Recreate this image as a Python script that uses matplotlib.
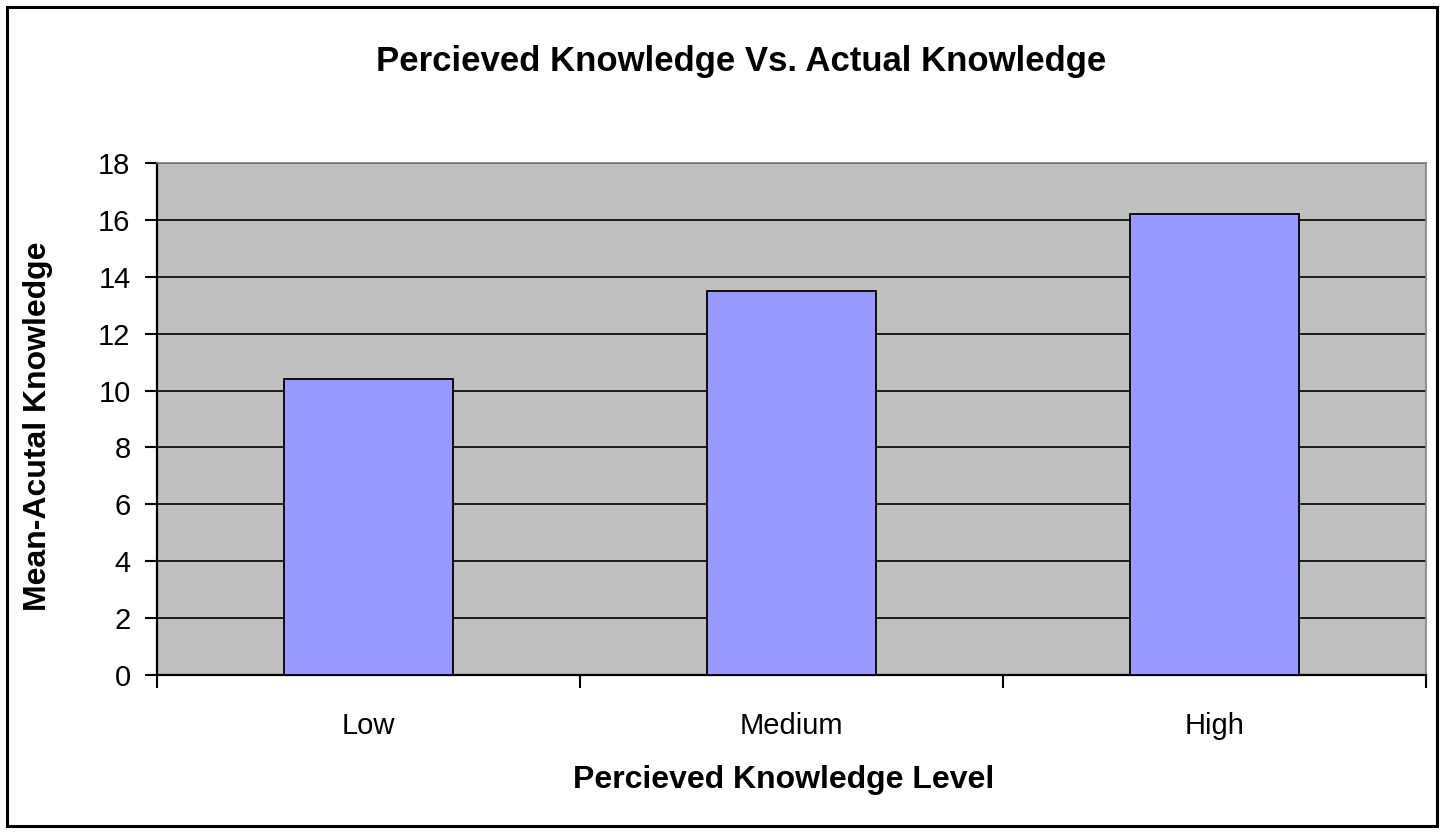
import matplotlib.pyplot as plt
from matplotlib.patches import Rectangle
import numpy as np

#%% Data

categories = ['Low', 'Medium', 'High']
mean_actual = [10.4, 13.5, 16.2]
y_ticks = list(range(0, 19, 2))

plt.rcParams['font.family'] = ['Liberation Sans', 'DejaVu Sans']

#%% Figure

fig = plt.figure(figsize=(14.41, 8.32), dpi=100)
ax = fig.add_axes([157 / 1441, 1 - 675 / 832, (1426 - 157) / 1441, (675 - 163) / 832])
ax.set_facecolor('#C0C0C0')

x = np.arange(len(categories))
ax.bar(x, mean_actual, width=0.4, color='#9999FF', edgecolor='black', linewidth=1.3, zorder=3)

### Axes
ax.set_xlim(-0.5, len(categories) - 0.5)
ax.set_ylim(0, 18)
ax.set_yticks(y_ticks)
ax.set_xticks(x)
ax.set_xticklabels(categories)
ax.set_xticks(np.arange(len(categories) + 1) - 0.5, minor=True)

ax.tick_params(axis='y', length=9, width=1.5, pad=10, labelsize=21)
ax.tick_params(axis='x', which='major', length=0, pad=27, labelsize=21)
ax.tick_params(axis='x', which='minor', length=9, width=1.5)

ax.set_axisbelow(True)
ax.yaxis.grid(True, color='black', linewidth=1.2)

for s in ['left', 'bottom']:
    ax.spines[s].set_color('black')
    ax.spines[s].set_linewidth(1.6)
for s in ['top', 'right']:
    ax.spines[s].set_color('#808080')
    ax.spines[s].set_linewidth(1.2)

### Labels
fig.text(0.514, 1 - 62 / 832, 'Percieved Knowledge Vs. Actual Knowledge',
         ha='center', va='center', fontsize=25, fontweight='bold')
fig.text(784 / 1441, 1 - 780 / 832, 'Percieved Knowledge Level',
         ha='center', va='center', fontsize=23, fontweight='bold')
fig.text(38 / 1441, 1 - 426 / 832, 'Mean-Acutal Knowledge', rotation=90,
         ha='center', va='center', fontsize=23, fontweight='bold')

### Outer border
fig.patches.append(Rectangle((7 / 1441, 6 / 832), 1430 / 1441, 819 / 832,
                             transform=fig.transFigure, fill=False,
                             edgecolor='black', linewidth=2.2))

plt.savefig('out.png', dpi=100)
